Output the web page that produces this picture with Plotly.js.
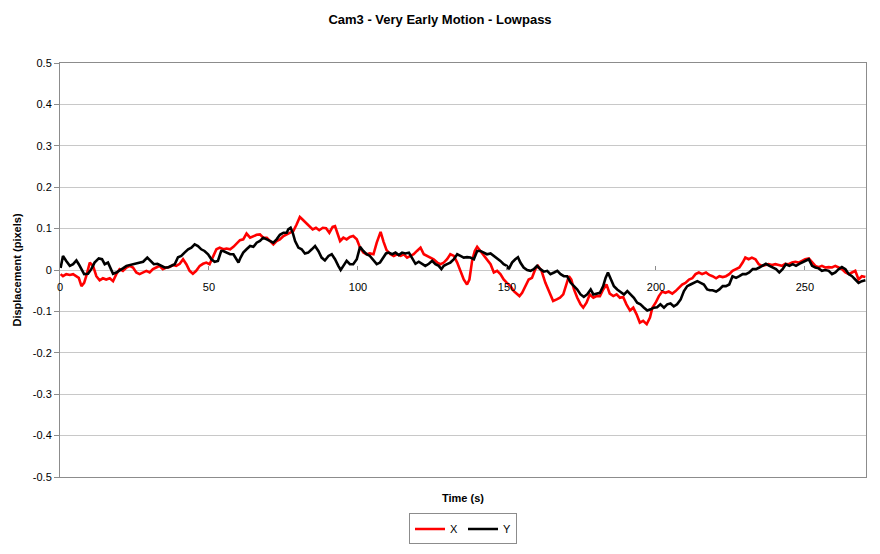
<!DOCTYPE html>
<html>
<head>
<meta charset="utf-8">
<script src="https://cdn.plot.ly/plotly-3.0.1.min.js"></script>
<style>html,body{margin:0;padding:0;background:#fff;}#chart{width:880px;height:554px;}</style>
</head>
<body>
<div id="chart"></div>
<script>
// Time (s) and displacement (pixels)
const timeX = [0.2,1,2.1,3.3,4.4,5.5,6.3,7.2,8.1,8.8,10,11.1,12.2,13.3,14.4,15.5,16.7,17.8,18.9,20,21.1,22.3,23.4,24.5,25.6,26.7,27.9,29,30.1,31.2,32.3,33.4,34.5,35.7,36.8,37.9,39,40.2,41.3,42.4,43.5,44.6,45.7,46.9,48,49.1,50.2,51.3,52.5,53.6,54.8,55.9,57.1,58.2,59.3,60.4,61.5,62.6,63.8,64.9,66,67.1,68.2,69.4,70.5,71.6,72.7,73.8,75,76.1,77.2,78.3,79.4,80.5,81.4,82.6,83.7,84.8,85.9,87,88.2,89.3,90.4,91.5,92.3,93.1,94,95.1,96.2,97.3,98.4,99.6,100.7,101.8,102.9,104,105.2,106.3,107.6,108.6,109.6,110.9,112,113.1,114.3,115.4,116.5,117.6,118.7,119.8,121,122.1,123.2,124.3,125.4,126.6,127.7,128.8,129.9,131,132.2,133.3,134.4,135.5,136.6,137.4,138.3,139.2,140,141.1,142.2,143.3,144.5,145.6,146.7,147.8,148.9,150,151.2,152.3,153.4,154.2,155.1,156.2,157.3,158.4,159.5,160.4,161.6,162.9,163.8,164.4,165.5,166.7,167.8,168.9,170,170.8,171.6,172.5,173.6,174.7,175.6,176.7,177.8,179,180.1,181.2,182.3,183.4,184.5,185.7,186.8,187.9,189,190.1,191.3,192.4,193.5,194.6,195.7,196.9,198,198.8,199.9,201,202.1,203.2,204.3,205.5,206.6,207.7,208.8,209.9,211.1,212.2,213.3,214.4,215.5,216.8,217.9,219,220.2,221.3,222.4,223.5,224.6,225.7,226.9,228,229.1,230,231.1,232.2,233.4,234.5,235.6,236.7,237.8,238.9,240.1,241.2,242.3,243.4,244.5,245.7,246.8,247.9,249,250.1,251.3,252.4,253.5,254.6,255.7,256.8,258,259.1,260.2,261.3,262.4,263.6,264.7,265.8,266.9,268,269.1,270.3];
const valuesX = [-0.010,-0.015,-0.010,-0.012,-0.010,-0.015,-0.019,-0.039,-0.031,-0.015,0.018,0.010,-0.015,-0.025,-0.020,-0.023,-0.020,-0.027,-0.010,0.002,-0.002,0.006,0.010,0.006,-0.006,-0.010,-0.006,-0.002,-0.006,0.002,0.006,0.010,0.002,0.006,0.007,0.012,0.010,0.015,0.026,0.014,-0.002,-0.009,-0.002,0.010,0.015,0.018,0.014,0.030,0.050,0.054,0.050,0.052,0.050,0.056,0.064,0.072,0.074,0.088,0.078,0.082,0.085,0.086,0.078,0.078,0.069,0.062,0.070,0.074,0.082,0.086,0.088,0.094,0.110,0.128,0.122,0.114,0.106,0.098,0.102,0.096,0.102,0.101,0.090,0.104,0.106,0.086,0.070,0.078,0.074,0.080,0.082,0.074,0.054,0.042,0.038,0.040,0.038,0.066,0.092,0.068,0.048,0.038,0.034,0.038,0.034,0.038,0.030,0.034,0.038,0.046,0.054,0.038,0.034,0.030,0.026,0.018,0.014,0.018,0.026,0.038,0.034,0.018,-0.002,-0.023,-0.035,-0.023,0.022,0.046,0.056,0.046,0.034,0.026,0.014,-0.006,-0.002,-0.010,-0.023,-0.031,-0.039,-0.051,-0.057,-0.063,-0.055,-0.039,-0.023,-0.019,0.002,0.010,-0.002,-0.031,-0.047,-0.055,-0.075,-0.071,-0.067,-0.059,-0.035,-0.015,-0.023,-0.047,-0.067,-0.083,-0.091,-0.079,-0.059,-0.067,-0.063,-0.063,-0.047,-0.035,-0.057,-0.063,-0.059,-0.067,-0.065,-0.083,-0.098,-0.091,-0.107,-0.127,-0.123,-0.131,-0.115,-0.091,-0.079,-0.063,-0.052,-0.055,-0.052,-0.057,-0.051,-0.043,-0.035,-0.031,-0.023,-0.020,-0.010,-0.006,-0.010,-0.006,-0.012,-0.015,-0.020,-0.015,-0.017,-0.015,-0.010,-0.002,0.002,0.006,0.018,0.030,0.026,0.030,0.026,0.014,0.010,0.012,0.014,0.012,0.014,0.012,0.010,0.015,0.014,0.018,0.020,0.018,0.023,0.026,0.028,0.018,0.010,0.007,0.010,0.006,0.007,0.006,0.010,0.006,0.002,-0.006,-0.010,-0.006,-0.002,-0.023,-0.015,-0.017];

const timeY = [0.2,1,2.1,3.3,4.4,5.5,6.3,7.2,8.1,9.4,10.5,11.6,13,14.1,15,16.1,17,17.8,18.9,20,21.1,22.3,23.4,24.5,26.2,27.9,29.3,30.4,31.5,32.7,34,35.1,36.2,37.4,38.5,39.6,40.7,41.8,43,44.1,45.2,46.3,47.4,48.5,49.7,50.8,51.9,53,54.1,54.8,55.9,57.1,58.2,59.1,59.9,60.6,61.5,62.6,63.8,64.9,66,67.1,68.2,69.4,70.5,71.6,72.7,73.8,75,76.1,76.6,77.4,78.1,78.9,80,81.1,82.2,83.3,84.5,85.6,86.7,87.8,88.9,90.1,91.2,92.3,93.4,94.2,95.1,96.2,97.3,98.4,99.6,100.7,101.8,102.9,104,105.2,106.3,107.4,108.5,109.4,110.3,111.5,112.6,113.7,114.8,115.9,117.1,118.2,119.3,120.4,121.5,122.6,123.8,124.9,126,127.1,128,128.8,129.9,131,132.2,133.3,134.4,135.5,136.6,137.7,138.9,140,141.1,142.2,143.3,144.5,145.6,146.7,147.8,148.9,150,150.6,151.7,152.8,153.7,154.5,155.6,156.8,157.9,159,160.1,161.2,162.4,163.5,164.6,165.8,166.9,168,169.1,170.2,171.4,172.5,173.6,174.7,175.8,176.9,178.1,179,180.1,181.2,182.3,183.1,183.9,184.8,185.9,187,188.1,189.3,190.4,191.5,192.6,193.7,194.8,196,197.1,198.2,199.3,200.4,201.5,202.7,203.8,204.9,206,207.1,208.3,209.4,210.5,211.6,212.7,213.9,215,216.1,217.2,218.1,219,220.2,221.3,222.4,223.5,224.6,225.7,226.9,228,229.1,230.2,231.3,232.5,233.6,234.7,235.8,236.9,238.1,239.2,240.3,241.4,242.5,243.6,244.8,245.9,247,248.1,249.2,250.4,251.3,252.4,253.5,254.6,255.7,256.8,258,259.1,260.2,261.3,262.4,263.6,264.7,265.8,266.9,268,269.1,270.3];
const valuesY = [0.005,0.034,0.022,0.010,0.014,0.023,0.014,0.002,-0.010,-0.009,0.002,0.018,0.028,0.026,0.014,0.018,0.002,-0.009,-0.006,0,0.004,0.010,0.012,0.015,0.018,0.020,0.030,0.022,0.014,0.015,0.010,0.006,0.006,0.010,0.014,0.031,0.034,0.042,0.050,0.054,0.062,0.058,0.050,0.046,0.038,0.026,0.020,0.022,0.046,0.046,0.042,0.038,0.038,0.026,0.018,0.030,0.042,0.050,0.058,0.056,0.066,0.070,0.078,0.074,0.070,0.066,0.074,0.085,0.090,0.090,0.098,0.102,0.090,0.070,0.054,0.050,0.040,0.042,0.050,0.058,0.046,0.030,0.023,0.034,0.038,0.026,0.010,0,0.010,0.022,0.014,0.014,0.026,0.056,0.046,0.038,0.034,0.022,0.014,0.018,0.030,0.040,0.042,0.038,0.042,0.036,0.042,0.040,0.042,0.030,0.015,0.020,0.014,0.010,0.015,0.022,0.014,0.010,0.002,0.010,0.014,0.018,0.026,0.038,0.034,0.030,0.031,0.030,0.026,0.046,0.046,0.042,0.038,0.040,0.034,0.030,0.022,0.014,0.010,0.002,0.018,0.026,0.031,0.018,0.006,0,-0.002,0.002,0.010,0.002,-0.004,-0.002,-0.010,-0.006,-0.002,-0.010,-0.015,-0.015,-0.031,-0.039,-0.047,-0.059,-0.065,-0.059,-0.047,-0.059,-0.057,-0.055,-0.039,-0.019,-0.006,-0.023,-0.039,-0.047,-0.052,-0.059,-0.051,-0.059,-0.067,-0.079,-0.083,-0.091,-0.098,-0.095,-0.091,-0.090,-0.083,-0.091,-0.083,-0.081,-0.088,-0.083,-0.071,-0.051,-0.039,-0.035,-0.031,-0.027,-0.031,-0.035,-0.047,-0.049,-0.049,-0.052,-0.047,-0.039,-0.039,-0.035,-0.015,-0.019,-0.015,-0.010,-0.010,-0.006,0.002,0.002,0.006,0.010,0.015,0.010,0.006,0.002,-0.006,0.002,0.014,0.010,0.014,0.010,0.015,0.018,0.023,0.026,0.010,0.006,0.004,-0.002,0,-0.002,-0.010,-0.006,0.002,0.007,0.002,-0.010,-0.015,-0.023,-0.031,-0.027,-0.025];

const xTicks = [0, 50, 100, 150, 200, 250];
const yTicks = [-0.5,-0.4,-0.3,-0.2,-0.1,0,0.1,0.2,0.3,0.4,0.5];
const yTickText = ['-0.5','-0.4','-0.3','-0.2','-0.1','0','0.1','0.2','0.3','0.4','0.5'];

const FONT = 'Liberation Sans, Arial, sans-serif';
const xRange = [0, 270.5];

const traces = [
  {x: timeX, y: valuesX, name: 'X', type: 'scatter', mode: 'lines',
   line: {color: '#ff0000', width: 2.6}},
  {x: timeY, y: valuesY, name: 'Y', type: 'scatter', mode: 'lines',
   line: {color: '#000000', width: 2.6}},
  // empty helper trace so the x-axis drawn at y = 0 (Excel-style crossing) exists
  {x: [], y: [], xaxis: 'x2', yaxis: 'y', type: 'scatter', mode: 'lines',
   showlegend: false, hoverinfo: 'skip'}
];

const layout = {
  width: 880, height: 554,
  paper_bgcolor: '#ffffff', plot_bgcolor: '#ffffff',
  margin: {l: 60, r: 14, t: 63, b: 77, autoexpand: false},
  font: {family: FONT, size: 11, color: '#000'},
  title: {text: '<b>Cam3 - Very Early Motion - Lowpass</b>', font: {family: FONT, size: 13, color: '#000'},
          x: 0.5, xanchor: 'center', y: 0.965, yanchor: 'middle'},
  showlegend: true,
  legend: {orientation: 'h', x: 0.5, xanchor: 'center', y: -0.088, yanchor: 'top',
           bordercolor: '#8c8c8c', borderwidth: 1, bgcolor: '#ffffff',
           font: {family: FONT, size: 11, color: '#000'}, itemwidth: 30, tracegroupgap: 0},
  xaxis: {range: xRange, showgrid: false, zeroline: false, showticklabels: false,
          ticks: '', showline: true, mirror: true, linecolor: '#8c8c8c', linewidth: 1,
          title: {text: '<b>Time (s)</b>', font: {family: FONT, size: 11, color: '#000'}, standoff: 17},
          automargin: false},
  xaxis2: {range: xRange, overlaying: 'x', anchor: 'free', position: 0.5, side: 'bottom',
           tickvals: xTicks, ticktext: xTicks.map(String), ticks: 'inside', ticklen: 4,
           ticklabelstandoff: 9,
           tickcolor: '#8c8c8c', showgrid: false, zeroline: false, showline: false,
           tickfont: {family: FONT, size: 11, color: '#000'}, automargin: false},
  yaxis: {range: [-0.5, 0.5], tickvals: yTicks, ticktext: yTickText, ticks: 'outside', ticklen: 5,
          tickcolor: '#8c8c8c', showgrid: true, gridcolor: '#c8c8c8', gridwidth: 1,
          zeroline: false, showline: true, mirror: true, linecolor: '#8c8c8c', linewidth: 1,
          tickfont: {family: FONT, size: 11, color: '#000'},
          title: {text: '<b>Displacement (pixels)</b>', font: {family: FONT, size: 11, color: '#000'}, standoff: 8},
          automargin: false}
};

Plotly.newPlot('chart', traces, layout, {displayModeBar: false, staticPlot: true});
</script>
</body>
</html>
